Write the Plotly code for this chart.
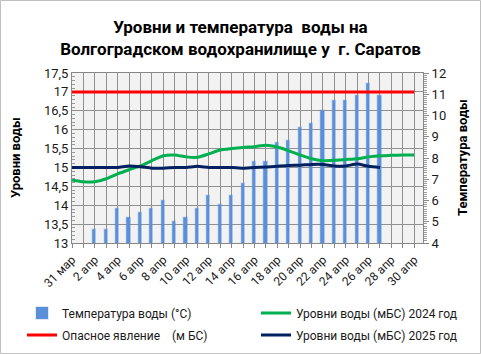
import plotly.graph_objects as go

# ---- data ----
days = ["31 мар", "1 апр", "2 апр", "3 апр", "4 апр", "5 апр", "6 апр", "7 апр",
        "8 апр", "9 апр", "10 апр", "11 апр", "12 апр", "13 апр", "14 апр", "15 апр",
        "16 апр", "17 апр", "18 апр", "19 апр", "20 апр", "21 апр", "22 апр", "23 апр",
        "24 апр", "25 апр", "26 апр", "27 апр", "28 апр", "29 апр", "30 апр"]
tick_labels = ["31 мар", "", "2 апр", "", "4 апр", "", "6 апр", "", "8 апр", "",
               "10 апр", "", "12 апр", "", "14 апр", "", "16 апр", "", "18 апр", "",
               "20 апр", "", "22 апр", "", "24 апр", "", "26 апр", "", "28 апр", "",
               "30 апр"]

water_temp = [None, None, 4.6, 4.6, 5.6, 5.2, 5.4, 5.6, 6.0, 5.0, 5.2, 5.6, 6.2, 5.8,
              6.2, 6.8, 7.8, 7.8, 8.7, 8.8, 9.4, 9.6, 10.2, 10.7, 10.7, 10.9, 11.5, 10.9]

level_2024 = [14.67, 14.62, 14.62, 14.70, 14.83, 14.94, 15.04, 15.18, 15.31, 15.33,
              15.28, 15.27, 15.36, 15.46, 15.50, 15.53, 15.55, 15.59, 15.54, 15.44,
              15.33, 15.23, 15.18, 15.19, 15.21, 15.23, 15.28, 15.31, 15.32, 15.33, 15.33]

level_2025 = [15.0, 15.0, 15.0, 15.0, 15.0, 15.04, 15.02, 14.98, 14.98, 15.0, 15.0,
              15.03, 15.0, 15.0, 15.0, 14.98, 15.0, 15.01, 15.03, 15.05, 15.06, 15.08,
              15.08, 15.04, 15.04, 15.09, 15.03, 15.0]

danger_level = [17.0] * len(days)

FONT = "Roboto, 'Noto Sans', sans-serif"
W, H = 481, 354

fig = go.Figure()

fig.add_trace(go.Bar(
    x=days[:len(water_temp)], y=water_temp, name="Температура воды (°C)",
    marker=dict(color="#5b8fd9", line=dict(color="rgba(91,143,217,0.25)", width=1.5)),
    width=0.28, yaxis="y", legend="legend"))

fig.add_trace(go.Scatter(
    x=days, y=danger_level, name="Опасное явление    (м БС)", mode="lines",
    line=dict(color="#ff0000", width=3), yaxis="y2", legend="legend2"))

fig.add_trace(go.Scatter(
    x=days, y=level_2024, name="Уровни воды (мБС) 2024 год", mode="lines",
    line=dict(color="#00b050", width=3, shape="spline", smoothing=0.6),
    yaxis="y2", legend="legend3"))

fig.add_trace(go.Scatter(
    x=days[:len(level_2025)], y=level_2025, name="Уровни воды (мБС) 2025 год",
    mode="lines", line=dict(color="#002060", width=3, shape="spline", smoothing=0.6),
    yaxis="y2", legend="legend4"))


def leg(px, py):
    return dict(x=px / W, y=1 - py / H, xref="container", yref="container",
                xanchor="left", yanchor="middle", orientation="h",
                bgcolor="rgba(0,0,0,0)", font=dict(size=12, family=FONT, color="#1a1a1a"),
                itemwidth=30)


fig.update_layout(
    width=W, height=H,
    margin=dict(l=72, r=58, t=73, b=111, autoexpand=False),
    paper_bgcolor="white", plot_bgcolor="#f2f2f2",
    separators=", ",
    font=dict(family=FONT, size=12, color="#1a1a1a"),
    showlegend=True,
    bargap=0,
    title=dict(
        text="<b>Уровни и температура  воды на<br>Волгоградском водохранилище у  г. Саратов</b>",
        x=0.5, xanchor="center", y=1 - 33 / H, yanchor="middle",
        font=dict(family=FONT, size=17, color="#000")),
    xaxis=dict(
        type="category", categoryorder="array", categoryarray=days,
        range=[0, 30.77], automargin=False,
        tickmode="array", tickvals=days, ticktext=tick_labels,
        tickangle=-45, ticks="outside", ticklen=4, tickcolor="#888",
        tickfont=dict(size=12, family=FONT, color="#1a1a1a"),
        showgrid=True, gridcolor="#909090", gridwidth=1,
        showline=True, linecolor="#888", mirror=True, zeroline=False),
    yaxis=dict(
        side="right", range=[4, 12], dtick=1, automargin=False,
        showgrid=False, zeroline=False,
        ticks="outside", ticklen=5, tickcolor="#888",
        minor=dict(dtick=0.1, ticks="outside", ticklen=3, tickcolor="#999"),
        showline=True, linecolor="#888",
        tickfont=dict(size=13, family=FONT, color="#1a1a1a")),
    yaxis2=dict(
        side="left", overlaying="y", range=[13, 17.5], dtick=0.5, automargin=False,
        showgrid=True, gridcolor="#909090", gridwidth=1, zeroline=False,
        ticks="", minor=dict(dtick=0.1, ticks="inside", ticklen=3, tickcolor="#999"),
        showline=True, linecolor="#888",
        tickfont=dict(size=13, family=FONT, color="#1a1a1a")),
    legend=leg(22, 313),
    legend2=leg(22, 335),
    legend3=leg(256, 313),
    legend4=leg(256, 335),
    annotations=[
        dict(text="<b>Уровни воды</b>", textangle=-90, xref="paper", yref="paper",
             x=-57 / 351, y=0.5, xanchor="center", yanchor="middle", showarrow=False,
             font=dict(size=13, family=FONT, color="#000")),
        dict(text="<b>Температура воды</b>", textangle=-90, xref="paper", yref="paper",
             x=1 + 39 / 351, y=0.5, xanchor="center", yanchor="middle", showarrow=False,
             font=dict(size=13, family=FONT, color="#000")),
    ],
    shapes=[dict(type="rect", xref="paper", yref="paper",
                 x0=-71.5 / 351, x1=1 + 57.5 / 351, y0=-110.5 / 170, y1=1 + 72.5 / 170,
                 line=dict(color="#bfbfbf", width=1), layer="below")],
)

fig.write_html("out.html")
